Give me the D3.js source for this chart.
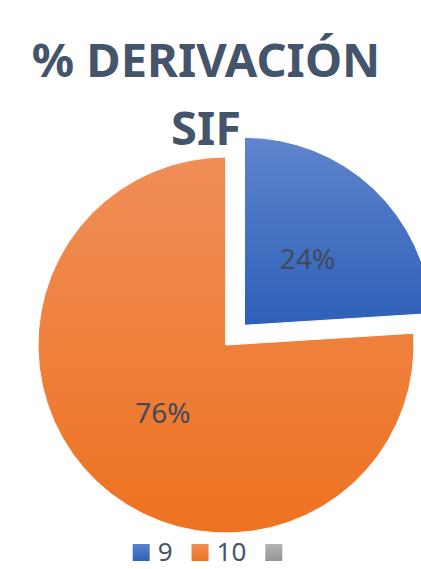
<!DOCTYPE html>
<html>
<head>
<meta charset="utf-8">
<script src="https://cdn.jsdelivr.net/npm/d3@7"></script>
<style>
  body { margin: 0; background: #fff; }
  text { font-family: "Noto Sans", sans-serif; }
</style>
</head>
<body>
<script>
// Data
var categories = ['9', '10', ''];
var values = [24, 76, 0];
var titleLines = ['% DERIVACIÓN', 'SIF'];

var colors = [
	{ top: '#5f84cd', bottom: '#2e60b8' },
	{ top: '#f08e58', bottom: '#ee7220' },
	{ top: '#b4b4b4', bottom: '#959595' }
];

var width = 421,
	height = 569;

var cx = 226,
	cy = 345,
	radius = 188,
	explode = 27;

var svg = d3
	.select('body')
	.append('svg')
	.attr('width', width)
	.attr('height', height);

// Gradients, one per slice
var defs = svg.append('defs');
colors.forEach((c, i) => {
	var g = defs
		.append('linearGradient')
		.attr('id', 'grad-' + i)
		.attr('x1', 0)
		.attr('y1', 0)
		.attr('x2', 0)
		.attr('y2', 1);
	g.append('stop').attr('offset', '0%').attr('stop-color', c.top);
	g.append('stop').attr('offset', '100%').attr('stop-color', c.bottom);
});

// Title
svg
	.selectAll('.title')
	.data(titleLines)
	.enter()
	.append('text')
	.attr('class', 'title')
	.attr('x', 206)
	.attr('y', (d, i) => 77 + i * 68)
	.attr('text-anchor', 'middle')
	.style('font-size', '47px')
	.style('font-weight', 'bold')
	.style('fill', '#44546a')
	.text(d => d);

// Pie
var pie = d3.pie().sort(null).value(d => d);
var arc = d3.arc().innerRadius(0).outerRadius(radius);
var arcs = pie(values);

function offset(d, i) {
	var mid = (d.startAngle + d.endAngle) / 2;
	var e = i === 0 ? explode : 0;
	return [Math.sin(mid) * e, -Math.cos(mid) * e];
}

var slice = svg
	.selectAll('.slice')
	.data(arcs)
	.enter()
	.append('g')
	.attr('class', 'slice')
	.attr('transform', (d, i) => {
		var o = offset(d, i);
		return 'translate(' + (cx + o[0]) + ',' + (cy + o[1]) + ')';
	});

slice
	.append('path')
	.attr('d', arc)
	.attr('fill', (d, i) => 'url(#grad-' + i + ')')
	.attr('stroke', '#fff')
	.attr('stroke-width', 1);

// Data labels
slice
	.filter(d => d.value > 0)
	.append('text')
	.attr('x', d => Math.sin((d.startAngle + d.endAngle) / 2) * radius * 0.49)
	.attr('y', d => -Math.cos((d.startAngle + d.endAngle) / 2) * radius * 0.49)
	.attr('dy', '0.4em')
	.attr('text-anchor', 'middle')
	.style('font-size', '28px')
	.style('fill', '#404a5c')
	.text(d => d.value + '%');

// Legend
var legend = svg.append('g').attr('class', 'legend');
var lx = 0;
categories.forEach((c, i) => {
	legend
		.append('rect')
		.attr('x', lx)
		.attr('y', 544)
		.attr('width', 17)
		.attr('height', 17)
		.attr('fill', 'url(#grad-' + i + ')');
	lx += 17;
	if (c) {
		var t = legend
			.append('text')
			.attr('x', lx + 8)
			.attr('y', 561)
			.style('font-size', '26px')
			.style('fill', '#44546a')
			.text(c);
		lx += 8 + t.node().getComputedTextLength();
	}
	if (i < categories.length - 1) lx += 19;
});
legend.attr('transform', 'translate(' + (207.5 - lx / 2) + ',0)');
</script>
</body>
</html>
